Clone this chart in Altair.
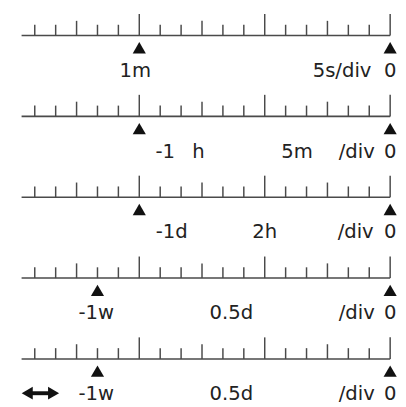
import altair as alt
import pandas as pd

# rows of the time-scale rulers (top to bottom)
ROW = [0, 1, 2, 3, 4]
# tick positions along each ruler, in divisions (0 = now)
TICK_POS = [-17, -16, -15, -14, -13, -12, -11, -10, -9, -8, -7, -6, -5, -4, -3, -2, -1, 0]
TICK_KIND = ["short", "short", "medium", "short", "short", "tall",
             "short", "short", "medium", "short", "short", "tall",
             "short", "short", "medium", "short", "short", "tall"]
# cursor marker per row and end marker
CURSOR_POS = [-12, -12, -12, -14, -14]
END_POS = [0, 0, 0, 0, 0]
LINE_START = -17.63
# labels
LABEL_ROW = [0, 0, 0,
             1, 1, 1, 1, 1,
             2, 2, 2, 2,
             3, 3, 3, 3,
             4, 4, 4, 4]
LABEL_TEXT = ["1m", "5s/div", "0",
              "-1", "h", "5m", "/div", "0",
              "-1d", "2h", "/div", "0",
              "-1w", "0.5d", "/div", "0",
              "-1w", "0.5d", "/div", "0"]
LABEL_POS = [-12.19, -2.3, 0,
             -10.76, -9.17, -4.45, -1.6, 0,
             -10.45, -6.0, -1.65, 0,
             -14.06, -7.6, -1.6, 0,
             -14.06, -7.6, -1.6, 0]
# double arrow in the last row
ARROW_ROW = [4]
ARROW_FROM = [-17.36]
ARROW_TO = [-16.1]

xs = alt.Scale(domain=[-18.28, 0], nice=False, zero=False)
ys = alt.Scale(domain=[-0.291, 4.448], nice=False, zero=False, reverse=True)

base_df = pd.DataFrame({"row": ROW, "start": [LINE_START] * len(ROW), "end": END_POS})
tick_df = pd.DataFrame([{"row": r, "pos": p, "kind": k}
                        for r in ROW for p, k in zip(TICK_POS, TICK_KIND)])
mark_df = pd.DataFrame({"row": ROW * 2, "pos": CURSOR_POS + END_POS})
label_df = pd.DataFrame({"row": LABEL_ROW, "text": LABEL_TEXT, "pos": LABEL_POS})
arrow_df = pd.DataFrame({"row": ARROW_ROW, "a": ARROW_FROM, "b": ARROW_TO})

LINE_COLOR = "#4a4a4a"

baseline = alt.Chart(base_df).mark_rule(color=LINE_COLOR, strokeWidth=1.6).encode(
    x=alt.X("start:Q", scale=xs, axis=None),
    x2="end:Q",
    y=alt.Y("row:Q", scale=ys, axis=None),
)

def tick_layer(kind, length):
    return alt.Chart(tick_df).transform_filter(
        alt.datum.kind == kind
    ).mark_rule(color=LINE_COLOR, strokeWidth=1.5, y2Offset=-length).encode(
        x=alt.X("pos:Q", scale=xs, axis=None),
        y=alt.Y("row:Q", scale=ys, axis=None),
        y2="row:Q",
    )

markers = alt.Chart(mark_df).mark_point(
    shape="triangle-up", filled=True, size=180, color="#111111", opacity=1, yOffset=12.5
).encode(
    x=alt.X("pos:Q", scale=xs, axis=None),
    y=alt.Y("row:Q", scale=ys, axis=None),
)

labels = alt.Chart(label_df).mark_text(
    font="DejaVu Sans", fontSize=20, color="#222222", baseline="alphabetic", align="center", dy=42
).encode(
    x=alt.X("pos:Q", scale=xs, axis=None),
    y=alt.Y("row:Q", scale=ys, axis=None),
    text="text:N",
)

shaft = alt.Chart(arrow_df).mark_rule(color="#111111", strokeWidth=4, yOffset=35).encode(
    x=alt.X("a:Q", scale=xs, axis=None),
    x2="b:Q",
    y=alt.Y("row:Q", scale=ys, axis=None),
)
head_l = alt.Chart(arrow_df).mark_point(
    shape="triangle-left", filled=True, size=170, color="#111111", opacity=1, yOffset=35
).encode(x=alt.X("a:Q", scale=xs, axis=None), y=alt.Y("row:Q", scale=ys, axis=None))
head_r = alt.Chart(arrow_df).mark_point(
    shape="triangle-right", filled=True, size=170, color="#111111", opacity=1, yOffset=35
).encode(x=alt.X("b:Q", scale=xs, axis=None), y=alt.Y("row:Q", scale=ys, axis=None))

chart = alt.layer(
    baseline,
    tick_layer("short", 11),
    tick_layer("medium", 15),
    tick_layer("tall", 22),
    markers,
    labels,
    shaft,
    head_l,
    head_r,
).properties(
    width=390,
    height=391,
    padding={"left": 0, "top": 0, "right": 8, "bottom": 8},
    autosize=alt.AutoSizeParams(type="none"),
    background="white",
).configure_view(stroke=None)

chart.save("out.html", embed_options={"renderer": "svg", "actions": False})
